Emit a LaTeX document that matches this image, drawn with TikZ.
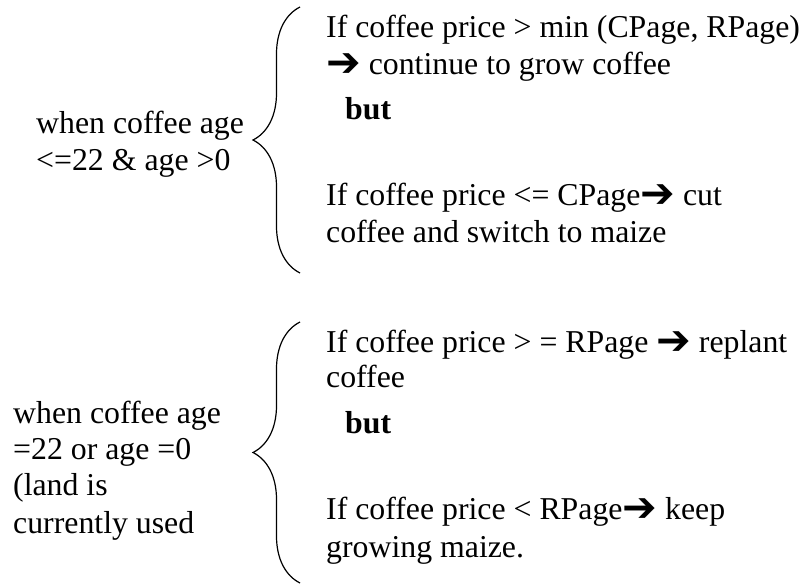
\documentclass[tikz,border=0pt]{standalone}
\usepackage{fontspec}
\setmainfont{Liberation Serif}
\newfontfamily\arrowfont[Scale=1.3]{DejaVu Sans Bold}
\usetikzlibrary{decorations.pathreplacing,positioning}
\newcommand{\thenarrow}{\raisebox{-2.5pt}{\arrowfont ➔}}

\begin{document}
\begin{tikzpicture}[x=1pt,y=-1pt,
  txt/.style={anchor=base west,inner sep=0pt,font=\fontsize{31.8}{36}\selectfont},
  brc/.style={decorate,decoration={brace,amplitude=47pt},line width=1.2pt}
]
\useasboundingbox (0,0) rectangle (803,584);
% age between 0 and 22
\node[txt] (agea) at (36,133) {when coffee age};
\node[txt] (ageb) at (36,170) {<=22 \& age >0};
\coordinate (top1) at (300,7);
\coordinate (bot1) at (300,273);
\draw[brc] (bot1) -- (top1);
\node[txt] (growa) at (326,37) {If coffee price > min (CPage, RPage)};
\node[txt] (growb) at (326,74) {\thenarrow\ continue to grow coffee};
\node[txt] (but1) at (345,119) {\textbf{but}};
\node[txt] (cuta) at (326,205) {If coffee price <= CPage\thenarrow\ cut};
\node[txt] (cutb) at (326,242) {coffee and switch to maize};
% age 22 or 0
\node[txt] (landa) at (13,423) {when coffee age};
\node[txt] (landb) at (13,459) {=22 or age =0};
\node[txt] (landc) at (13,495) {(land is};
\node[txt] (landd) at (13,533) {currently used};
\coordinate (top2) at (300,322);
\coordinate (bot2) at (300,583);
\draw[brc] (bot2) -- (top2);
\node[txt] (repa) at (326,352) {If coffee price > = RPage \thenarrow\ replant};
\node[txt] (repb) at (326,387) {coffee};
\node[txt] (but2) at (345,433) {\textbf{but}};
\node[txt] (keepa) at (326,519) {If coffee price < RPage\thenarrow\ keep};
\node[txt] (keepb) at (326,557) {growing maize.};
\end{tikzpicture}
\end{document}
